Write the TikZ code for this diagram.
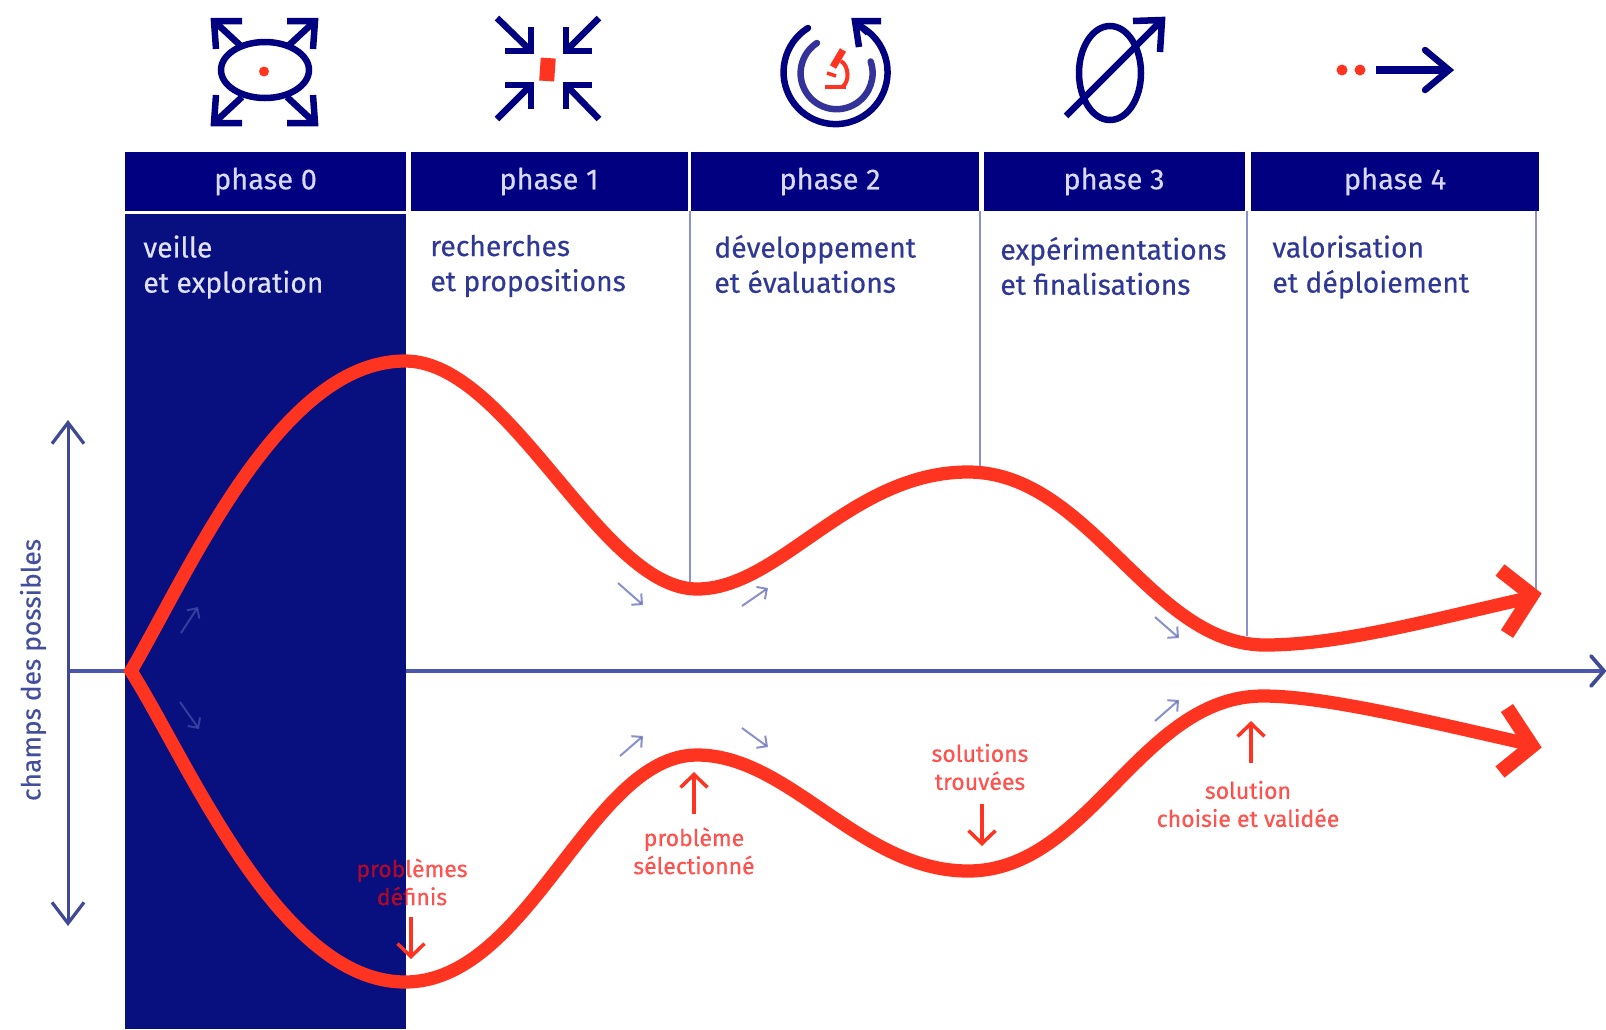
\documentclass[tikz,border=0pt]{standalone}
\usepackage{fontspec}
\setmainfont[FakeBold=0.35]{Fira Sans}
\usetikzlibrary{arrows.meta}
\definecolor{hnavy}{RGB}{0,0,128}
\definecolor{cnavy}{RGB}{8,16,128}
\definecolor{txtblue}{RGB}{48,56,150}
\definecolor{axblue}{RGB}{74,86,176}
\definecolor{vline}{RGB}{140,145,205}
\definecolor{rouge}{RGB}{255,52,32}
\newcommand{\fs}[2]{\fontsize{#1}{#2}\selectfont}
\tikzset{
  x=0.02cm,y=-0.02cm,
  phasebox/.style={fill=hnavy,draw=none,inner sep=0pt,text=white!85!blue,font=\fs{16.5}{20}},
  desc/.style={anchor=west,align=left,inner sep=0pt,text=txtblue,font=\fs{16.1}{20}},
  descw/.style={desc,text=white!88!blue},
  rlab/.style={align=center,inner sep=0pt,text=red!95!orange,text opacity=.68,font=\fs{13.1}{16}},
  sep/.style={draw=vline,line width=0.035cm},
  axisline/.style={draw=axblue,line width=0.095cm},
  vaxis/.style={draw=axblue!85!black,line width=0.06cm,
     {Straight Barb[length=4.2mm,width=6.4mm,line width=0.065cm]}-{Straight Barb[length=4.2mm,width=6.4mm,line width=0.065cm]}},
  axhead/.style={draw=axblue!85!black,line width=0.075cm,line cap=round},
  bigcurve/.style={draw=rouge,line width=0.265cm,miter limit=10},
  chev/.style={draw=rouge,line width=0.29cm,line join=miter,miter limit=10},
  redptr/.style={draw=rouge,line width=0.07cm,-{Straight Barb[length=2.6mm,width=5.4mm,line width=0.07cm]}},
  small/.style={draw=axblue,opacity=.65,line width=0.04cm,-{Straight Barb[length=1.5mm,width=3mm,line width=0.04cm]}},
  ico/.style={draw=hnavy,line width=0.13cm,line cap=round},
  icoj/.style={ico,line cap=butt,line join=miter},
}
\newcommand{\corner}[4]{\draw[icoj] (#2) -- (#1) -- (#3); \draw[icoj] (#1) -- (#4);}
\begin{document}
\begin{tikzpicture}
\useasboundingbox (0,0) rectangle (1606,1029);
\fill[white] (0,0) rectangle (1606,1029);

% axis
\coordinate (axL) at (68,671); \coordinate (axR) at (1604,671);
\draw[axisline] (axL) -- (axR);
\coordinate (ar1) at (1591,656); \coordinate (ar2) at (1591,686);
\draw[axhead] (ar1) -- (axR) -- (ar2);

% dark column
\path[fill=cnavy] (125,214) rectangle (406,1029);

% headers
\node[phasebox,minimum width=0.02cm*281,minimum height=0.02cm*59] (p0) at (265.5,181.5) {phase 0};
\node[phasebox,minimum width=0.02cm*277,minimum height=0.02cm*59] (p1) at (549,181.5) {phase 1};
\node[phasebox,minimum width=0.02cm*288,minimum height=0.02cm*59] (p2) at (835,181.5) {\hspace{-0.2cm}phase 2};
\node[phasebox,minimum width=0.02cm*261,minimum height=0.02cm*59] (p3) at (1114,181.5) {phase 3};
\node[phasebox,minimum width=0.02cm*288,minimum height=0.02cm*59] (p4) at (1395,181.5) {phase 4};

% column separators
\coordinate (s1a) at (690,211); \coordinate (s1b) at (690,582);
\coordinate (s2a) at (980,211); \coordinate (s2b) at (980,468);
\coordinate (s3a) at (1247,211); \coordinate (s3b) at (1247,636);
\coordinate (s4a) at (1536,211); \coordinate (s4b) at (1536,590);
\draw[sep] (s1a) -- (s1b);
\draw[sep] (s2a) -- (s2b);
\draw[sep] (s3a) -- (s3b);
\draw[sep] (s4a) -- (s4b);

% descriptions
\node[descw] (d0) at (143,267) {veille\\et exploration};
\node[desc] (d1) at (430,266) {recherches\\et propositions};
\node[desc] (d2) at (714,264) {développement\\et évaluations};
\node[desc] (d3) at (1000,266) {expérimentations\\et finalisations};
\node[desc] (d4) at (1272,267) {valorisation\\et déploiement};

% left vertical axis
\coordinate (vt) at (68,420); \coordinate (vb) at (68,926);
\draw[vaxis] (vt) -- (vb);
\node[rotate=90,inner sep=0pt,text=axblue!90!black,font=\fs{15}{20}] (champ) at (33,670) {champs des possibles};

% small arrows
\coordinate (a1) at (181,633); \coordinate (a1e) at (198,607);
\coordinate (a2) at (180,702); \coordinate (a2e) at (199,729);
\coordinate (a3) at (618,583); \coordinate (a3e) at (643,605);
\coordinate (a4) at (742,606); \coordinate (a4e) at (768,588);
\coordinate (a5) at (620,756); \coordinate (a5e) at (643,736);
\coordinate (a6) at (742,728); \coordinate (a6e) at (768,747);
\coordinate (a7) at (1155,617); \coordinate (a7e) at (1179,638);
\coordinate (a8) at (1155,721); \coordinate (a8e) at (1179,700);
\foreach \n in {1,...,8} \draw[small] (a\n) -- (a\n e);

% red labels
\node[rlab] (l1) at (412,882) {problèmes\\définis};
\node[rlab] (l2) at (694,851) {problème\\sélectionné};
\node[rlab] (l3) at (980,767) {solutions\\trouvées};
\node[rlab] (l4) at (1248,804) {solution\\choisie et validée};

\coordinate (r1) at (411,917); \coordinate (r1e) at (411,959);
\coordinate (r2) at (694,814); \coordinate (r2e) at (694,772);
\coordinate (r3) at (982,804); \coordinate (r3e) at (982,846);
\coordinate (r4) at (1251,763); \coordinate (r4e) at (1251,721);
\foreach \n in {1,...,4} \draw[redptr] (r\n) -- (r\n e);

% red curves
\coordinate (O) at (131,671);
\coordinate (T1) at (405,361); \coordinate (T2) at (697,589); \coordinate (T3) at (968,472);
\coordinate (T4) at (1265,645); \coordinate (T5) at (1528,598);
\coordinate (B1) at (405,982); \coordinate (B2) at (697,755); \coordinate (B3) at (968,871);
\coordinate (B4) at (1263,696); \coordinate (B5) at (1528,744);
\draw[bigcurve]
 (B5) .. controls (1410,717) and (1320,696) .. (B4)
 .. controls (1140,696) and (1090,871) .. (B3)
 .. controls (860,871) and (790,755) .. (B2)
 .. controls (590,755) and (530,982) .. (B1)
 .. controls (280,982) and (190,765) .. (O)
 .. controls (190,570) and (280,361) .. (T1)
 .. controls (510,361) and (600,589) .. (T2)
 .. controls (780,589) and (850,472) .. (T3)
 .. controls (1090,472) and (1150,645) .. (T4)
 .. controls (1340,645) and (1430,620) .. (T5);
\coordinate (c1a) at (1500,570); \coordinate (c1t) at (1532,595); \coordinate (c1b) at (1507,634);
\coordinate (c2a) at (1507,708); \coordinate (c2t) at (1532,746); \coordinate (c2b) at (1500,772);
\draw[chev] (c1a) -- (c1t) -- (c1b);
\draw[chev] (c2a) -- (c2t) -- (c2b);

% icon 0
\draw[ico] (265,70) ellipse [x radius=44,y radius=28];
\fill[rouge] (264,71.5) circle [radius=5];
\corner{214,21}{242,21}{216,49}{242,47}
\corner{315,21}{287,21}{313,49}{287,47}
\corner{214,123}{242,123}{216,95}{242,97}
\corner{315,123}{287,123}{313,95}{287,97}

% icon 1
\fill[rouge,rotate around={-4:(547,69)}] (540,58) rectangle (555,81);
\corner{531,51}{505,51}{531,27}{497,18}
\corner{566,51}{592,51}{566,27}{599,18}
\corner{531,85}{505,85}{531,109}{497,119}
\corner{566,85}{592,85}{566,109}{599,119}

% icon 2
\draw[ico] (808,28) arc[start angle=238,end angle=-64,radius=52];
\draw[ico,draw=hnavy!80!white] (817,43) arc[start angle=237,end angle=-19,radius=36];
\corner{855,21}{881,21}{859,47}{868,33}
\draw[rouge,line width=0.14cm] (843,50) -- (833,67);
\draw[rouge,line width=0.08cm] (841,61) .. controls (849,66) and (850,82) .. (842,87);
\draw[rouge,line width=0.08cm] (825,87) -- (846,87);
\draw[rouge,line width=0.07cm] (827,73) -- (836,76);

% icon 3
\draw[ico] (1110,73) ellipse [x radius=31,y radius=47];
\draw[ico,line cap=butt] (1066,116) -- (1160,22);
\corner{1162,20}{1133,21}{1160,52}{1150,32}

% icon 4
\fill[rouge] (1342,70) circle [radius=5.5];
\fill[rouge] (1360,70) circle [radius=5.5];
\coordinate (ia) at (1376,70); \coordinate (ib) at (1448,70);
\draw[ico,line width=0.15cm,line cap=butt] (ia) -- (ib);
\coordinate (iw1) at (1425,50); \coordinate (iw2) at (1425,90);
\draw[ico,line width=0.13cm,line join=miter] (iw1) -- (1449,70) -- (iw2);
\end{tikzpicture}
\end{document}
